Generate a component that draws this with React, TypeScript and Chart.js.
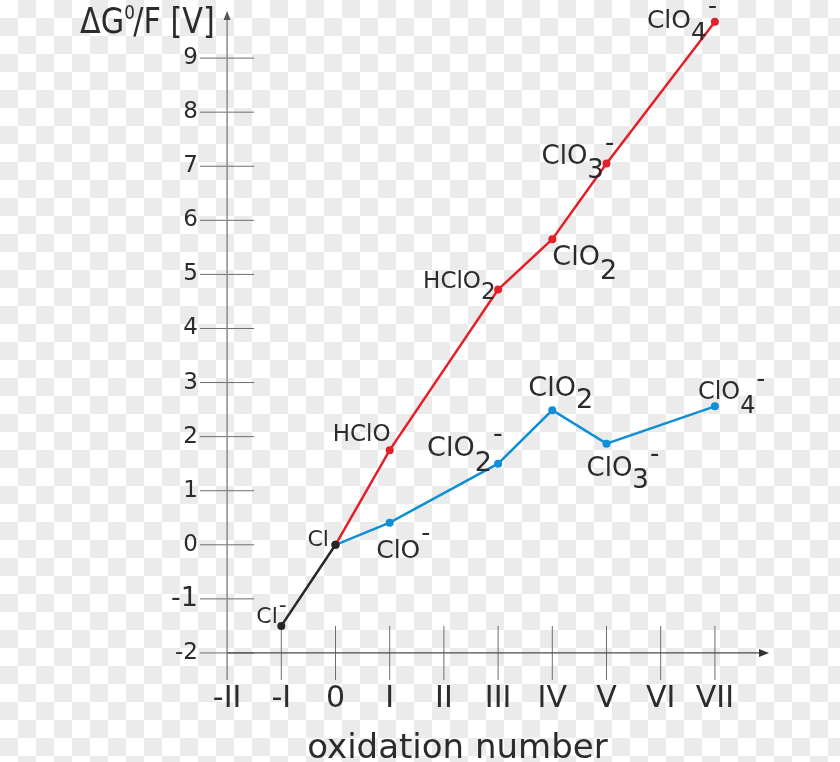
import React, { useEffect, useRef } from 'react';
import { Chart, registerables } from 'chart.js';

Chart.register(...registerables);

// ---------- data ----------
const xTickValues = [-2, -1, 0, 1, 2, 3, 4, 5, 6, 7];
const xTickLabels = ['-II', '-I', '0', 'I', 'II', 'III', 'IV', 'V', 'VI', 'VII'];
const yTickValues = [-2, -1, 0, 1, 2, 3, 4, 5, 6, 7, 8, 9];

const blackX = [-1, 0];
const blackY = [-1.5, 0];
const blackNames = ['Cl-', 'Cl'];

const redX = [0, 1, 3, 4, 5, 7];
const redY = [0, 1.75, 4.72, 5.65, 7.05, 9.67];
const redNames = ['', 'HClO', 'HClO2', 'ClO2', 'ClO3-', 'ClO4-'];

const blueX = [0, 1, 3, 4, 5, 7];
const blueY = [0, 0.41, 1.5, 2.49, 1.87, 2.56];
const blueNames = ['', 'ClO-', 'ClO2-', 'ClO2', 'ClO3-', 'ClO4-'];

const yTitleParts = ['ΔG', '0', '/F [V]'];
const xTitle = 'oxidation number';

// ---------- styling ----------
const FONT = '"DejaVu Sans", "Noto Sans", sans-serif';
const TEXT = '#2b2b2b';
// per dataset, per point: [dx, dy, fontSize, subDy, supDy]
const labelStyle: Record<number, (number[] | null)[]> = {
  0: [[-25, -3, 22, 0, -17], [-28, 1, 22, 0, -20]],
  1: [null, [-57, -9, 23, 0, -20], [-75, -2, 23, 11, -20], [0, 26, 27, 14, -20], [-65, 0, 26, 14, -20], [-68, 6, 25, 12, -21]],
  2: [null, [-13.5, 35, 25, 0, -23], [-71, -8, 27, 15, -21], [-24, -14, 27, 12, -20], [-20, 32.5, 26, 12, -21], [-17, -7, 24, 14, -19]],
};
const names = [blackNames, redNames, blueNames];

const toPts = (xs: number[], ys: number[]) => xs.map((x, i) => ({ x, y: ys[i] }));

const frostPlugin = {
  id: 'frost',
  beforeDatasetsDraw(chart: any) {
    const { ctx, chartArea } = chart;
    const xs = chart.scales.x;
    const ys = chart.scales.y;
    const ax = xs.getPixelForValue(-2);
    const ay = ys.getPixelForValue(-2);
    const lo = ys.getPixelForValue(-2.5);
    const hi = ys.getPixelForValue(-1.5);
    const l = xs.getPixelForValue(-2.5);
    const r = xs.getPixelForValue(-1.5);
    ctx.save();
    // tick marks
    ctx.strokeStyle = '#6e6e6e';
    ctx.lineWidth = 1;
    ctx.beginPath();
    xTickValues.forEach((v) => {
      if (v === -2) return;
      const x = xs.getPixelForValue(v);
      ctx.moveTo(x, lo);
      ctx.lineTo(x, hi);
    });
    yTickValues.forEach((v) => {
      const y = ys.getPixelForValue(v);
      ctx.moveTo(l, y);
      ctx.lineTo(r, y);
    });
    ctx.stroke();
    // y axis
    ctx.strokeStyle = '#8a8a8a';
    ctx.fillStyle = '#555';
    ctx.lineWidth = 1.5;
    ctx.beginPath();
    ctx.moveTo(ax, lo);
    ctx.lineTo(ax, chartArea.top + 14);
    ctx.stroke();
    ctx.beginPath();
    ctx.moveTo(ax, chartArea.top + 7);
    ctx.lineTo(ax - 3.5, chartArea.top + 16);
    ctx.lineTo(ax + 3.5, chartArea.top + 16);
    ctx.closePath();
    ctx.fill();
    // x axis
    ctx.strokeStyle = '#4a4a4a';
    ctx.lineWidth = 1.2;
    ctx.beginPath();
    ctx.moveTo(ax, ay);
    ctx.lineTo(chartArea.right + 18, ay);
    ctx.stroke();
    ctx.fillStyle = '#333';
    ctx.beginPath();
    ctx.moveTo(chartArea.right + 27, ay);
    ctx.lineTo(chartArea.right + 17, ay - 4);
    ctx.lineTo(chartArea.right + 17, ay + 4);
    ctx.closePath();
    ctx.fill();
    ctx.restore();
  },
  afterDatasetsDraw(chart: any) {
    const { ctx } = chart;
    const xs = chart.scales.x;
    const ys = chart.scales.y;
    ctx.save();
    ctx.fillStyle = TEXT;
    ctx.textAlign = 'left';
    ctx.textBaseline = 'alphabetic';
    chart.data.datasets.forEach((ds: any, di: number) => {
      ds.data.forEach((p: any, pi: number) => {
        const name = names[di][pi];
        const st = labelStyle[di][pi];
        if (!name || !st) return;
        const [dx, dy, size, subDy, supDy] = st;
        const m = name.match(/^(.*?)(\d*)(-?)$/);
        if (!m) return;
        const [, base, sub, sup] = m;
        ctx.font = `${size}px ${FONT}`;
        let x = xs.getPixelForValue(p.x) + dx;
        const y = ys.getPixelForValue(p.y) + dy;
        ctx.fillText(base, x, y);
        x += ctx.measureText(base).width;
        if (sub) {
          ctx.fillText(sub, x, y + subDy);
          x += ctx.measureText(sub).width;
        }
        if (sup) {
          ctx.fillText('-', x + 1, y + supDy + 0.27 * size);
        }
      });
    });
    // x axis title
    ctx.font = `34px ${FONT}`;
    ctx.textAlign = 'center';
    ctx.fillText(xTitle, xs.getPixelForValue(2.25), chart.height - 4);
    // y axis title (condensed)
    const ax = xs.getPixelForValue(-2);
    ctx.textAlign = 'left';
    ctx.translate(ax - 147, 33);
    ctx.scale(0.84, 1);
    let tx = 0;
    ctx.font = `36px ${FONT}`;
    ctx.fillText(yTitleParts[0], tx, 0);
    tx += ctx.measureText(yTitleParts[0]).width;
    ctx.font = `20px ${FONT}`;
    ctx.fillText(yTitleParts[1], tx, -14);
    tx += ctx.measureText(yTitleParts[1]).width - 2;
    ctx.font = `36px ${FONT}`;
    ctx.fillText(yTitleParts[2], tx, 0);
    ctx.restore();
  },
};

export default function App() {
  const ref = useRef<HTMLCanvasElement | null>(null);
  useEffect(() => {
    if (!ref.current) return;
    const common = { borderWidth: 2.5, pointRadius: 4, pointBorderWidth: 0, pointHoverRadius: 4, fill: false, tension: 0 };
    const chart = new Chart(ref.current, {
      type: 'line',
      data: {
        datasets: [
          { label: 'Cl', data: toPts(blackX, blackY), borderColor: '#262626', backgroundColor: '#262626', ...common },
          { label: 'acid', data: toPts(redX, redY), borderColor: '#e3202a', backgroundColor: '#e3202a', ...common },
          { label: 'base', data: toPts(blueX, blueY), borderColor: '#0f8fd6', backgroundColor: '#0f8fd6', ...common },
        ],
      },
      options: {
        animation: false,
        responsive: true,
        maintainAspectRatio: false,
        layout: { padding: { top: 1, right: 98, left: 0, bottom: 0 } },
        plugins: { legend: { display: false }, tooltip: { enabled: false }, title: { display: false } },
        scales: {
          x: {
            type: 'linear',
            min: -2.5,
            max: 7.5,
            afterBuildTicks: (s: any) => {
              s.ticks = xTickValues.map((v) => ({ value: v }));
            },
            afterFit: (s: any) => {
              s.height = 82;
              s.paddingLeft = 0;
              s.paddingRight = 0;
            },
            ticks: {
              autoSkip: false,
              maxRotation: 0,
              padding: 1,
              color: '#2b2b2b',
              font: { family: FONT, size: 30 },
              callback: (v: any) => {
                const i = xTickValues.indexOf(Number(v));
                return i >= 0 ? xTickLabels[i] : '';
              },
            },
            grid: { display: false, drawTicks: false },
            border: { display: false },
          },
          y: {
            type: 'linear',
            min: -2.5,
            max: 10,
            afterBuildTicks: (s: any) => {
              s.ticks = yTickValues.map((v) => ({ value: v }));
            },
            afterFit: (s: any) => {
              s.width = 200;
              s.paddingTop = 0;
              s.paddingBottom = 0;
            },
            ticks: {
              autoSkip: false,
              padding: 2,
              color: '#2b2b2b',
              font: (c: any) => ({ family: FONT, size: c.tick && c.tick.value === -1 ? 27 : 23 }),
              callback: (v: any) => String(v),
            },
            grid: { display: false, drawTicks: false },
            border: { display: false },
          },
        },
      } as any,
      plugins: [frostPlugin],
    });
    return () => chart.destroy();
  }, []);

  return (
    <div
      style={{
        position: 'absolute',
        left: 0,
        top: 0,
        width: 840,
        height: 762,
        background: 'repeating-conic-gradient(#ebebeb 0% 25%, #ffffff 0% 50%) 0 0 / 36px 36px',
      }}
    >
      <canvas ref={ref} />
    </div>
  );
}
